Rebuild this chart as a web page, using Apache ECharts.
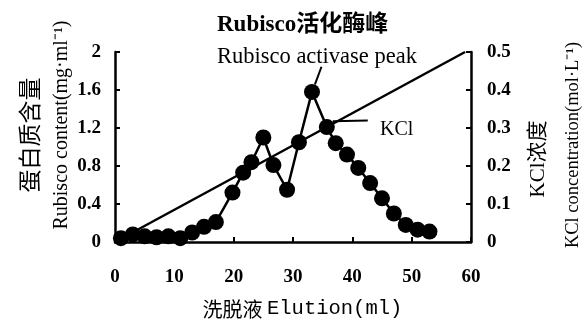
<!DOCTYPE html>
<html><head><meta charset="utf-8">
<script src="https://cdn.jsdelivr.net/npm/echarts@6/dist/echarts.min.js"></script>
<style>html,body{margin:0;padding:0;background:#fff}#c{width:585px;height:325px}</style>
</head><body><div id="c"></div>
<script>
const elution = [1,3,5,7,9,11,13,15,17,19.8,21.6,23,25,26.7,29,31,33.2,35.7,37.2,39.1,41,43,45,47,49,51,53];
const protein = [0.04,0.08,0.06,0.05,0.06,0.04,0.1,0.16,0.21,0.52,0.73,0.84,1.1,0.81,0.55,1.05,1.58,1.21,1.04,0.92,0.78,0.62,0.46,0.3,0.18,0.13,0.11];
const kclX = [0,59];
const kclY = [0,0.5];
const xTicks = [0,10,20,30,40,50,60];
const leftTicks = [0,0.4,0.8,1.2,1.6,2];
const rightTicks = [0,0.1,0.2,0.3,0.4,0.5];

const serif = "'Liberation Serif','Noto Sans CJK SC',serif";
const chart = echarts.init(document.getElementById('c'), null, {renderer:'canvas'});
const tickLabel = {color:'#000', fontFamily:serif, fontSize:19, fontWeight:'bold'};
chart.setOption({
  animation:false,
  backgroundColor:'#fff',
  grid:{left:115, right:114, top:52, bottom:83},
  xAxis:{type:'value', min:xTicks[0], max:xTicks[xTicks.length-1], interval:10,
    axisLine:{lineStyle:{color:'#000', width:2.5}},
    axisTick:{inside:true, length:5, lineStyle:{color:'#000', width:2}},
    axisLabel:Object.assign({margin:26}, tickLabel),
    splitLine:{show:false}},
  yAxis:[
    {type:'value', min:leftTicks[0], max:leftTicks[leftTicks.length-1], interval:0.4,
     axisLine:{show:true, lineStyle:{color:'#000', width:2.5}},
     axisTick:{show:true, inside:true, length:5, lineStyle:{color:'#000', width:2}},
     axisLabel:Object.assign({margin:14}, tickLabel), splitLine:{show:false}},
    {type:'value', min:rightTicks[0], max:rightTicks[rightTicks.length-1], interval:0.1, position:'right',
     axisLine:{show:true, lineStyle:{color:'#000', width:2.5}},
     axisTick:{show:true, inside:true, length:5, lineStyle:{color:'#000', width:2}},
     axisLabel:Object.assign({margin:16}, tickLabel), splitLine:{show:false}}
  ],
  series:[
    {type:'line', yAxisIndex:1, data:kclX.map((x,i)=>[x,kclY[i]]), showSymbol:false, symbol:'none',
     lineStyle:{color:'#000', width:2.5}, z:2},
    {type:'line', yAxisIndex:0, data:elution.map((x,i)=>[x,protein[i]]), symbol:'circle', symbolSize:16,
     itemStyle:{color:'#000'}, lineStyle:{color:'#000', width:2.5}, z:3,
     markLine:{silent:true, symbol:'none', label:{show:false},
       lineStyle:{color:'#000', width:2, type:'solid'},
       data:[
         [{coord:[36.7,1.27]},{coord:[42.6,1.28]}],
         [{coord:[34.8,1.845]},{coord:[33.7,1.66]}]
       ]}}
  ],
  graphic:[
    {type:'text', left:217, top:14, style:{text:'Rubisco活化酶峰', fill:'#000', font:"bold 23px 'Liberation Serif','Noto Sans CJK SC',serif"}},
    {type:'text', left:217, top:46, style:{text:'Rubisco activase peak', fill:'#000', font:"22.5px 'Liberation Serif',serif"}},
    {type:'text', left:380, top:120, style:{text:'KCl', fill:'#000', font:"20px 'Liberation Serif',serif"}},
    {type:'text', x:267, y:309, style:{text:'洗脱液 ', fill:'#000', font:"20px 'Noto Sans CJK SC',sans-serif", textAlign:'right', textVerticalAlign:'middle'}},
    {type:'text', x:267, y:309, style:{text:'Elution(ml)', fill:'#000', font:"20.5px 'Liberation Mono',monospace", textAlign:'left', textVerticalAlign:'middle'}},
    {type:'text', x:62, y:125, rotation:Math.PI/2, style:{text:'Rubisco content(mg·ml⁻¹)', fill:'#000', font:"20px 'Liberation Serif',serif", textAlign:'center', textVerticalAlign:'middle'}},
    {type:'text', x:29, y:135, rotation:Math.PI/2, style:{text:'蛋白质含量', fill:'#000', font:"23px 'Noto Sans CJK SC',sans-serif", textAlign:'center', textVerticalAlign:'middle'}},
    {type:'text', x:538, y:159, rotation:Math.PI/2, style:{text:'KCl浓度', fill:'#000', font:"21px 'Liberation Serif','Noto Sans CJK SC',serif", textAlign:'center', textVerticalAlign:'middle'}},
    {type:'text', x:573, y:145, rotation:Math.PI/2, style:{text:'KCl concentration(mol·L⁻¹)', fill:'#000', font:"18.5px 'Liberation Serif',serif", textAlign:'center', textVerticalAlign:'middle'}}
  ]
});
</script></body></html>
